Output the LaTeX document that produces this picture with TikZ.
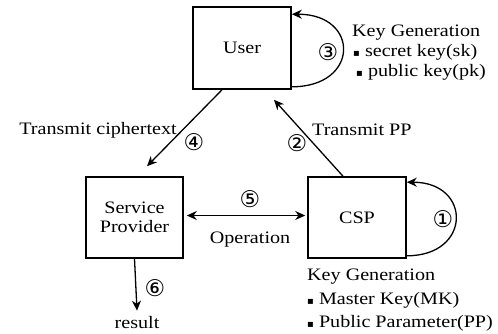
\documentclass[tikz,border=0pt]{standalone}
\usepackage{fontspec}
\setmainfont{Liberation Serif}[FakeStretch=1.15]
\newfontfamily\labelfont{Liberation Serif}[FakeStretch=1.15]
\newfontfamily\numfont{DejaVu Sans}
\usetikzlibrary{arrows.meta}

\tikzset{
  entity/.style={draw, line width=1.6pt, minimum width=#1, inner sep=0pt, align=center,
                 font=\labelfont\fontsize{17.5}{19}\selectfont},
  flow/.style={line width=1.3pt, -{Stealth[length=10pt,width=9pt]}},
  twoway/.style={line width=1.3pt, {Stealth[length=10pt,width=9pt]}-{Stealth[length=10pt,width=9pt]}},
  txt/.style={inner sep=0pt, font=\labelfont\fontsize{17.5}{19}\selectfont},
  num/.style={inner sep=0pt, font=\numfont\fontsize{23}{23}\selectfont},
}
\newcommand{\sqbullet}{{\numfont\fontsize{10}{10}\selectfont ▪}}

\begin{document}
\begin{tikzpicture}[x=1pt, y=-1pt]
  \useasboundingbox (0,0) rectangle (498,333);

  % parties
  \node[entity=98pt, minimum height=82pt] (user) at (242,48) {User};
  \node[entity=97pt, minimum height=81pt] (sp) at (134.5,217.5) {Service\\Provider};
  \node[entity=98pt, minimum height=81pt] (csp) at (357,217.5) {CSP};
  \node[txt] (result) at (137,323) {result};

  % key generation at the user
  \draw[flow] ([yshift=3pt]user.south east) .. controls +(68,0) and +(68,0) .. ([yshift=-8pt]user.north east);
  \node[num] (n3) at (328,52) {③};
  \node[txt, anchor=west] (ukg) at (352,33) {Key Generation};
  \node[txt, anchor=west] (usk) at (353,52) {\sqbullet\ secret key(sk)};
  \node[txt, anchor=west] (upk) at (356,72) {\sqbullet\ public key(pk)};

  % key generation at the CSP
  \draw[flow] ([yshift=3pt]csp.south east) .. controls +(65,0) and +(65,0) .. ([yshift=-6pt]csp.north east);
  \node[num] (n1) at (443,219) {①};
  \node[txt, anchor=west] (ckg) at (307,277) {Key Generation};
  \node[txt, anchor=west] (cmk) at (307,300) {\sqbullet\ Master Key(MK)};
  \node[txt, anchor=west] (cpp) at (307,323) {\sqbullet\ Public Parameter(PP)};

  % public parameters to the user
  \draw[flow] ([xshift=-14pt]csp.north) -- ([xshift=32pt,yshift=-10pt]user.south);
  \node[num] (n2) at (297,143) {②};
  \node[txt, anchor=west] (tpp) at (312,130) {Transmit PP};

  % ciphertext to the provider
  \draw[flow] ([xshift=-20pt]user.south) -- ([xshift=12.5pt,yshift=10pt]sp.north);
  \node[num] (n4) at (194,142) {④};
  \node[txt, anchor=east] (tct) at (177,130) {Transmit ciphertext};

  % operation between provider and CSP
  \draw[twoway, shorten <=3pt, shorten >=2pt] ([yshift=2pt]sp.east) -- ([yshift=2pt]csp.west);
  \node[num] (n5) at (250,199) {⑤};
  \node[txt] (op) at (250,240) {Operation};

  % result
  \draw[flow] (sp.south) -- ([yshift=6pt]result.north);
  \node[num] (n6) at (155,288) {⑥};
\end{tikzpicture}
\end{document}
